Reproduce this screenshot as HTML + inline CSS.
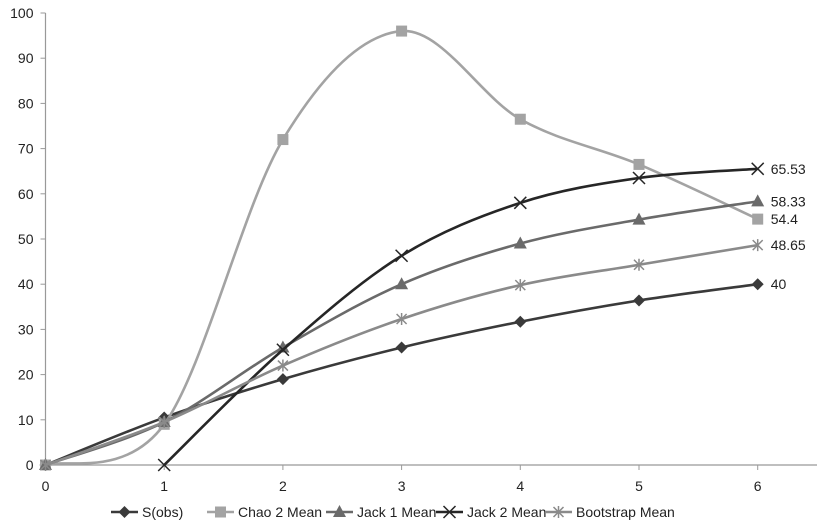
<!DOCTYPE html>
<html><head><meta charset="utf-8"><style>
body{margin:0;background:#fff}
svg{display:block;font-family:"Liberation Sans","DejaVu Sans",sans-serif}
</style></head><body>
<svg id="chart" width="825" height="532" viewBox="0 0 825 532"></svg>
<script>
const xCats=[0,1,2,3,4,5,6];
const yTicks=[0,10,20,30,40,50,60,70,80,90,100];
const sObs=[0,10.5,19,26,31.7,36.4,40];
const chao2=[0,9,72,96,76.5,66.5,54.4];
const jack1=[0,9.5,26,40,49,54.3,58.33];
const jack2=[null,0,25.5,46.3,58,63.5,65.53];
const boot=[0,9.5,22,32.3,39.8,44.3,48.65];
const endLabels=["40","54.4","58.33","65.53","48.65"];
const svg=document.getElementById('chart');
const NS='http://www.w3.org/2000/svg';
const X=v=>45.5+v*118.7;
const Y=v=>465-v*4.52;
function mk(t,a,p){const e=document.createElementNS(NS,t);for(const k in a)e.setAttribute(k,a[k]);(p||svg).appendChild(e);return e;}
// axes
const ax=mk('g',{});


mk('line',{x1:X(0),y1:Y(0),x2:817,y2:Y(0),stroke:'#999','stroke-width':1.2},ax);
mk('line',{x1:X(0),y1:Y(0),x2:X(0),y2:Y(100),stroke:'#999','stroke-width':1.2},ax);
yTicks.forEach(v=>{
 mk('line',{x1:X(0)-5,y1:Y(v),x2:X(0),y2:Y(v),stroke:'#999'},ax);
 const t=mk('text',{x:X(0)-12,y:Y(v)+5,'text-anchor':'end','font-size':14,fill:'#222'},ax);
 
 
 t.textContent=v;
});
xCats.forEach(v=>{
 mk('line',{x1:X(v),y1:Y(0),x2:X(v),y2:Y(0)+5,stroke:'#999'},ax);
 const t=mk('text',{x:X(v),y:491,'text-anchor':'middle','font-size':14,fill:'#222'},ax);
 
 
 t.textContent=v;
});
function path(vals){
 const p=[];vals.forEach((v,i)=>{if(v!==null)p.push([X(xCats[i]),Y(v)]);});
 let d='M'+p[0][0]+','+p[0][1];
 for(let i=0;i<p.length-1;i++){
  const p0=p[i-1]||p[i],p1=p[i],p2=p[i+1],p3=p[i+2]||p2;
  const c1=[p1[0]+(p2[0]-p0[0])/6,p1[1]+(p2[1]-p0[1])/6];
  const c2=[p2[0]-(p3[0]-p1[0])/6,p2[1]-(p3[1]-p1[1])/6];
  d+=` C${c1[0]},${c1[1]} ${c2[0]},${c2[1]} ${p2[0]},${p2[1]}`;
 }
 return d;
}
function marker(g,type,x,y,c){
 if(type==='diamond')mk('polygon',{points:`${x},${y-6} ${x+6},${y} ${x},${y+6} ${x-6},${y}`,fill:c},g);
 else if(type==='square')mk('rect',{x:x-5.5,y:y-5.5,width:11,height:11,fill:c},g);
 else if(type==='triangle')mk('polygon',{points:`${x},${y-7} ${x+6.5},${y+5} ${x-6.5},${y+5}`,fill:c},g);
 else if(type==='x'){mk('path',{d:`M${x-6},${y-6}L${x+6},${y+6}M${x-6},${y+6}L${x+6},${y-6}`,stroke:c,'stroke-width':1.5},g);}
 else {mk('path',{d:`M${x-5},${y-5}L${x+5},${y+5}M${x-5},${y+5}L${x+5},${y-5}M${x},${y-6}L${x},${y+6}`,stroke:c,'stroke-width':1.5},g);}
}
const series=[
 {name:'S(obs)',vals:sObs,c:'#3a3a3a',m:'diamond',id:'series-sobs'},
 {name:'Chao 2 Mean',vals:chao2,c:'#a3a3a3',m:'square',id:'series-chao2'},
 {name:'Jack 1 Mean',vals:jack1,c:'#6a6a6a',m:'triangle',id:'series-jack1'},
 {name:'Jack 2 Mean',vals:jack2,c:'#262626',m:'x',id:'series-jack2'},
 {name:'Bootstrap Mean',vals:boot,c:'#8a8a8a',m:'star',id:'series-bootstrap'}
];
series.forEach((s,si)=>{
 const g=mk('g',{});
 
 
 mk('path',{d:path(s.vals),fill:'none',stroke:s.c,'stroke-width':2.6},g);
 s.vals.forEach((v,i)=>{if(v!==null)marker(g,s.m,X(xCats[i]),Y(v),s.c);});
 const last=s.vals[s.vals.length-1];
 const t=mk('text',{x:X(6)+13,y:Y(last)+5,'font-size':14,fill:'#222'},g);
 
 
 t.textContent=endLabels[si];
});
// legend
const lg=mk('g',{});


const lx=[111,207,326,436,545];
series.forEach((s,i)=>{
 const g=mk('g',{},lg);
 
 
 mk('line',{x1:lx[i],y1:512,x2:lx[i]+27,y2:512,stroke:s.c,'stroke-width':2.6},g);
 marker(g,s.m,lx[i]+13.5,512,s.c);
 const t=mk('text',{x:lx[i]+31,y:517,'font-size':14,fill:'#222'},g);
 t.textContent=s.name;
});
</script>
</body></html>
